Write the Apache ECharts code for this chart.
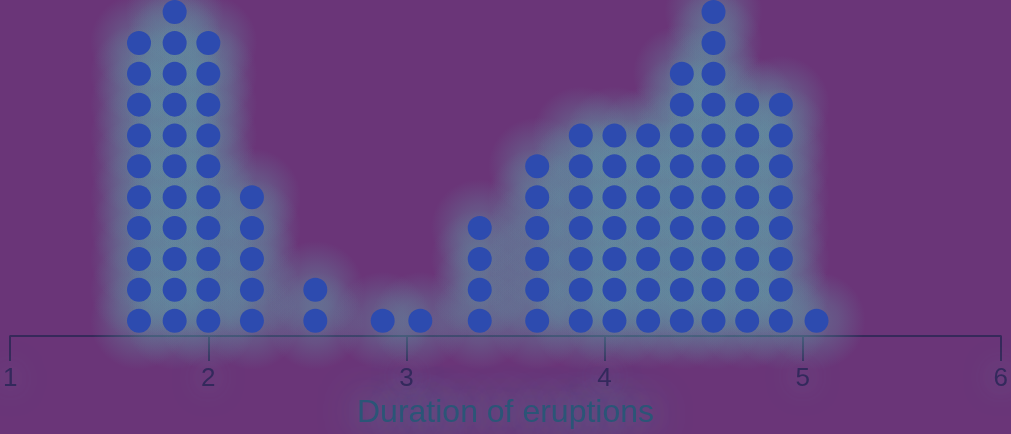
<!DOCTYPE html>
<html><head><meta charset="utf-8">
<script src="https://cdn.jsdelivr.net/npm/echarts@6/dist/echarts.min.js"></script>
<style>html,body{margin:0;padding:0;background:#6a3578;}#c{width:1011px;height:434px;}</style>
</head><body><div id="c"></div>
<script>
const durations = [1.65,1.83,2.0,2.22,2.54,2.88,3.07,3.37,3.66,3.88,4.05,4.22,4.39,4.55,4.72,4.89,5.07];
const counts = [10,11,10,5,2,1,1,4,6,7,7,7,9,11,8,8,1];
const tickValues = [1,2,3,4,5,6];
const axisTitle = 'Duration of eruptions';

const points = [];
durations.forEach((d,i)=>{ for(let k=1;k<=counts[i];k++) points.push([d,k]); });

const glow = {type:'radial',x:0.5,y:0.5,r:0.5,colorStops:[
  {offset:0,color:'rgba(95,168,172,0.46)'},
  {offset:0.45,color:'rgba(95,168,172,0.31)'},
  {offset:1,color:'rgba(95,168,172,0)'}]};

const chart = echarts.init(document.getElementById('c'));
chart.setOption({
  backgroundColor:'#6a3578',
  animation:false,
  grid:{left:7,right:10,top:0,bottom:97.5},
  xAxis:{type:'value',min:1,max:6,interval:1,
    axisLine:{show:true,lineStyle:{color:'#36295a',width:2}},
    axisTick:{show:true,length:25,lineStyle:{color:'#36295a',width:2}},
    splitLine:{show:false},
    axisLabel:{color:'#33295c',fontSize:26,margin:30,fontFamily:'Liberation Sans, Arial',
      formatter:v=>tickValues.includes(v)?String(v):'',
      textShadowColor:'rgba(100,175,180,0.8)',textShadowBlur:30},
    name:axisTitle,nameLocation:'middle',nameGap:59,
    nameTextStyle:{color:'#2b5577',fontSize:32,fontFamily:'Liberation Sans, Arial',
      textShadowColor:'rgba(80,195,175,1)',textShadowBlur:40}
  },
  yAxis:{type:'value',min:0.5,max:11.39,show:false},
  series:[
    {type:'scatter',data:points,symbolSize:98,silent:true,
     itemStyle:{color:glow}},
    {type:'scatter',data:points,symbolSize:24,
     itemStyle:{color:'#2d4baf',opacity:1}}
  ]
});
</script></body></html>
